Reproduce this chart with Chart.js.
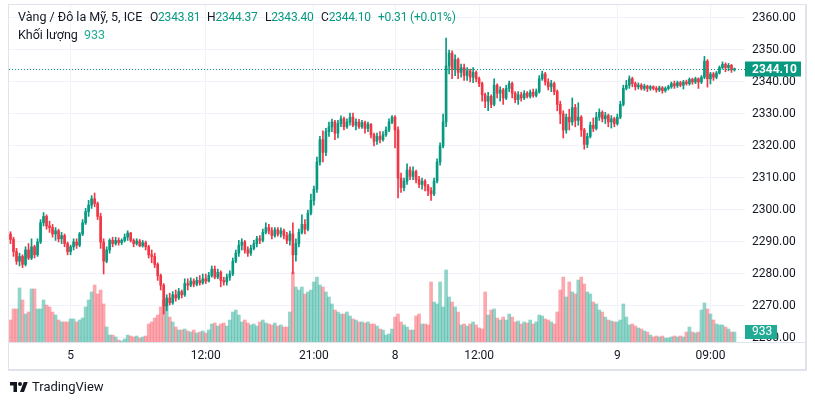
<!DOCTYPE html>
<html>
<head>
<meta charset="utf-8">
<script src="https://cdn.jsdelivr.net/npm/chart.js@4.4.0/dist/chart.umd.min.js"></script>
<style>
  body { margin: 0; background: #fff; font-family: Roboto, sans-serif; }
  #wrap { position: relative; width: 815px; height: 405px; }
  .lg { position: absolute; font-size: 12.5px; line-height: 16px; color: #131722; white-space: nowrap; }
  .num { font-size: 12px; letter-spacing: -0.2px; }
  .v { color: #089981; }
  .vol { color: #22ab94; }
</style>
</head>
<body>
<div id="wrap">
  <canvas id="chart" width="815" height="405"></canvas>
  <div class="lg" style="left:18px;top:9px">Vàng / Đô la Mỹ, 5, ICE</div>
  <div class="lg num" style="left:150px;top:9px">O<span class="v">2343.81</span></div>
  <div class="lg num" style="left:207px;top:9px">H<span class="v">2344.37</span></div>
  <div class="lg num" style="left:265px;top:9px">L<span class="v">2343.40</span></div>
  <div class="lg num" style="left:321px;top:9px">C<span class="v">2344.10</span></div>
  <div class="lg num v" style="left:378px;top:9px">+0.31 (+0.01%)</div>
  <div class="lg" style="left:18px;top:27px">Khối lượng</div>
  <div class="lg vol" style="left:84px;top:27px">933</div>
  <svg style="position:absolute;left:10px;top:381px" width="18" height="12" viewBox="0 0 36 24">
    <path fill="#131722" d="M14 22H7V9H0V2h14v20zM28 22h-8l7.5-20h8L28 22z"/>
    <circle fill="#131722" cx="20" cy="6" r="4"/>
  </svg>
  <div class="lg" style="left:32px;top:379px;font-size:13px">TradingView</div>
</div>
<script>
// 5-minute gold candles (one entry per ~3 px column)
const opens = [
  2292.5,2290.8,2287.0,2284.0,2285.5,2283.0,2287.5,2285.0,2288.5,2286.0,
  2290.0,2296.0,2298.0,2295.0,2294.5,2292.5,2293.5,2291.0,2292.0,2289.5,
  2287.0,2288.5,2290.0,2289.0,2292.5,2296.0,2299.5,2301.5,2303.5,2302.0,
  2298.0,2290.0,2284.0,2287.5,2290.5,2289.5,2290.5,2289.8,2290.5,2291.5,
  2292.8,2290.5,2289.5,2290.3,2288.8,2289.8,2288.5,2286.0,2285.5,2283.0,
  2279.5,2276.5,2270.0,2272.5,2271.0,2273.5,2272.5,2274.5,2273.5,2277.0,
  2276.5,2277.8,2276.8,2278.0,2277.2,2278.5,2277.8,2279.5,2281.5,2279.0,
  2280.5,2278.0,2277.5,2279.0,2280.0,2284.0,2286.5,2289.0,2290.0,2287.5,
  2286.5,2288.0,2289.5,2291.0,2290.5,2293.0,2294.5,2293.5,2292.0,2293.8,
  2292.5,2293.5,2292.0,2290.5,2292.5,2286.0,2289.5,2293.0,2295.5,2294.0,
  2299.0,2303.0,2306.5,2315.0,2322.0,2318.0,2324.5,2326.0,2327.5,2324.0,
  2327.0,2328.5,2326.0,2327.5,2329.0,2326.5,2327.5,2326.0,2327.3,2325.5,
  2326.8,2323.5,2321.5,2323.0,2322.0,2323.5,2325.0,2327.5,2329.0,2325.0,
  2310.0,2307.0,2309.0,2312.5,2310.5,2312.0,2309.5,2308.0,2309.0,2307.5,
  2306.0,2305.0,2309.0,2315.0,2320.0,2327.5,2345.0,2349.0,2344.0,2347.0,
  2343.0,2344.5,2342.0,2343.5,2341.5,2343.0,2341.0,2339.5,2336.0,2334.0,
  2335.5,2333.0,2339.0,2336.5,2337.5,2335.0,2338.0,2339.5,2336.5,2334.5,
  2336.0,2335.0,2336.5,2335.5,2336.8,2335.8,2337.0,2341.0,2342.5,2340.0,
  2338.5,2339.5,2337.0,2333.0,2330.0,2325.0,2329.0,2327.5,2332.0,2328.0,
  2329.0,2325.0,2320.5,2323.0,2326.5,2325.5,2329.0,2330.5,2328.5,2329.5,
  2327.5,2328.5,2327.0,2329.0,2333.0,2338.0,2339.0,2341.0,2339.5,2338.5,
  2339.0,2338.0,2338.7,2338.0,2338.5,2338.0,2337.5,2338.2,2337.3,2338.0,
  2338.5,2339.5,2338.8,2339.8,2339.0,2340.0,2339.5,2340.8,2340.0,2341.0,
  2340.0,2341.5,2346.5,2341.0,2342.5,2341.5,2342.8,2344.5,2345.5,2344.5,
  2345.2,2343.81
];
const highs = [
  2293.2,2291.5,2288.0,2286.5,2286.0,2288.5,2289.5,2291.0,2289.0,2291.0,
  2297.0,2299.2,2298.5,2296.5,2295.5,2294.5,2294.0,2293.0,2292.5,2290.0,
  2289.0,2291.0,2291.0,2293.0,2297.0,2300.5,2303.0,2304.5,2305.3,2302.5,
  2299.0,2291.0,2288.5,2291.0,2291.5,2291.5,2291.3,2291.0,2292.5,2293.5,
  2293.0,2291.0,2291.0,2290.8,2290.5,2290.3,2289.0,2287.5,2286.5,2283.5,
  2280.0,2277.0,2273.5,2274.0,2274.5,2275.0,2275.5,2275.0,2278.5,2278.5,
  2278.8,2278.5,2279.0,2279.5,2280.0,2280.0,2280.5,2282.5,2282.5,2281.5,
  2281.0,2279.0,2280.0,2281.0,2285.0,2287.5,2290.5,2291.0,2290.5,2288.5,
  2289.0,2290.5,2291.8,2292.0,2294.0,2296.0,2295.5,2294.5,2294.5,2294.5,
  2294.4,2294.0,2293.0,2293.4,2296.0,2291.0,2294.0,2298.5,2297.0,2300.0,
  2305.0,2307.5,2316.5,2323.0,2324.7,2325.5,2327.5,2328.4,2328.0,2328.0,
  2329.4,2329.0,2328.5,2330.3,2330.3,2328.5,2328.3,2328.0,2327.8,2327.5,
  2327.0,2324.0,2324.0,2324.5,2324.5,2326.0,2328.5,2329.5,2329.5,2326.0,
  2311.5,2310.0,2314.4,2313.5,2313.5,2312.5,2310.5,2310.0,2309.5,2308.0,
  2307.0,2310.0,2316.0,2321.0,2330.0,2353.75,2350.0,2349.7,2348.5,2347.5,
  2345.6,2345.6,2344.5,2344.0,2344.5,2343.5,2341.5,2340.0,2336.5,2336.8,
  2336.0,2341.0,2339.4,2338.5,2338.0,2339.0,2340.3,2340.0,2337.0,2337.0,
  2336.8,2337.3,2337.0,2337.5,2337.8,2337.8,2342.0,2343.4,2343.0,2341.0,
  2340.5,2340.0,2337.5,2334.0,2331.0,2330.0,2331.5,2335.0,2333.0,2333.5,
  2329.5,2325.5,2324.0,2327.5,2328.75,2330.5,2331.6,2331.0,2330.5,2330.0,
  2329.5,2329.0,2330.0,2334.0,2339.0,2340.5,2341.9,2341.5,2340.0,2339.7,
  2339.5,2339.3,2339.0,2338.9,2338.8,2338.6,2338.75,2338.6,2338.5,2339.0,
  2340.0,2340.3,2340.3,2340.2,2340.5,2340.6,2341.25,2341.2,2341.5,2341.3,
  2342.0,2348.0,2347.0,2343.0,2343.0,2343.3,2345.0,2346.3,2346.0,2345.8,
  2345.5,2344.37
];
const lows = [
  2289.5,2285.5,2283.0,2282.5,2282.0,2282.5,2284.5,2284.5,2285.0,2285.5,
  2289.5,2295.0,2294.0,2293.0,2291.5,2290.5,2290.0,2289.5,2288.5,2286.0,
  2286.0,2287.5,2288.0,2288.5,2292.0,2295.5,2298.0,2300.5,2301.0,2297.0,
  2288.0,2280.0,2283.5,2286.5,2288.5,2289.0,2289.0,2289.2,2290.0,2290.5,
  2290.0,2288.5,2289.0,2288.5,2288.4,2287.5,2285.0,2283.5,2282.0,2278.0,
  2275.0,2267.5,2268.5,2270.3,2270.5,2271.5,2272.0,2272.5,2273.0,2275.0,
  2276.0,2276.0,2276.3,2276.5,2276.8,2277.0,2277.5,2279.0,2278.5,2278.5,
  2276.0,2276.5,2276.5,2278.0,2279.5,2283.5,2285.5,2287.5,2286.5,2285.5,
  2285.8,2287.5,2288.5,2289.5,2290.0,2292.5,2292.5,2291.0,2291.5,2291.8,
  2291.5,2291.0,2289.5,2289.0,2280.0,2284.0,2288.5,2292.5,2292.5,2293.5,
  2298.5,2301.5,2305.5,2314.0,2315.0,2317.0,2323.0,2324.5,2322.0,2322.5,
  2326.0,2325.0,2325.5,2326.5,2326.0,2325.0,2325.5,2325.5,2324.0,2324.5,
  2322.5,2320.0,2320.5,2321.0,2321.5,2323.0,2324.5,2327.0,2319.4,2303.8,
  2305.5,2306.0,2308.0,2309.5,2309.5,2308.5,2307.0,2306.5,2306.0,2304.5,
  2303.0,2304.5,2308.5,2314.0,2319.4,2326.0,2342.5,2341.0,2342.0,2341.0,
  2341.5,2340.5,2340.5,2340.0,2339.8,2340.0,2338.5,2334.0,2332.0,2331.0,
  2332.0,2332.5,2335.0,2334.0,2333.0,2334.5,2337.0,2335.0,2333.5,2333.0,
  2334.0,2334.5,2335.0,2335.0,2335.2,2335.3,2336.5,2340.5,2339.0,2337.5,
  2337.0,2336.0,2331.0,2327.0,2322.5,2324.0,2325.0,2326.5,2326.0,2326.5,
  2323.0,2319.0,2319.5,2322.5,2324.5,2325.0,2328.0,2327.5,2327.0,2326.0,
  2325.6,2326.0,2326.5,2328.5,2332.5,2337.5,2338.0,2338.5,2337.5,2337.8,
  2337.5,2337.4,2337.0,2337.4,2337.5,2336.8,2337.0,2336.5,2336.8,2337.5,
  2338.0,2338.0,2338.3,2338.5,2337.8,2339.0,2339.0,2339.3,2339.5,2338.0,
  2339.5,2341.0,2338.4,2339.4,2340.5,2341.0,2342.5,2344.0,2343.2,2343.5,
  2343.0,2343.40
];
const closes = [
  2290.8,2287.0,2284.0,2285.5,2283.0,2287.5,2285.0,2288.5,2286.0,2290.0,
  2296.0,2298.0,2295.0,2294.5,2292.5,2293.5,2291.0,2292.0,2289.5,2287.0,
  2288.5,2290.0,2289.0,2292.5,2296.0,2299.5,2301.5,2303.5,2302.0,2298.0,
  2290.0,2284.0,2287.5,2290.5,2289.5,2290.5,2289.8,2290.5,2291.5,2292.8,
  2290.5,2289.5,2290.3,2288.8,2289.8,2288.5,2286.0,2285.5,2283.0,2279.5,
  2276.5,2270.0,2272.5,2271.0,2273.5,2272.5,2274.5,2273.5,2277.0,2276.5,
  2277.8,2276.8,2278.0,2277.2,2278.5,2277.8,2279.5,2281.5,2279.0,2280.5,
  2278.0,2277.5,2279.0,2280.0,2284.0,2286.5,2289.0,2290.0,2287.5,2286.5,
  2288.0,2289.5,2291.0,2290.5,2293.0,2294.5,2293.5,2292.0,2293.8,2292.5,
  2293.5,2292.0,2290.5,2292.5,2286.0,2289.5,2293.0,2295.5,2294.0,2299.0,
  2303.0,2306.5,2315.0,2322.0,2318.0,2324.5,2326.0,2327.5,2324.0,2327.0,
  2328.5,2326.0,2327.5,2329.0,2326.5,2327.5,2326.0,2327.3,2325.5,2326.8,
  2323.5,2321.5,2323.0,2322.0,2323.5,2325.0,2327.5,2329.0,2325.0,2310.0,
  2307.0,2309.0,2312.5,2310.5,2312.0,2309.5,2308.0,2309.0,2307.5,2306.0,
  2305.0,2309.0,2315.0,2320.0,2327.5,2345.0,2349.0,2344.0,2347.0,2343.0,
  2344.5,2342.0,2343.5,2341.5,2343.0,2341.0,2339.5,2336.0,2334.0,2335.5,
  2333.0,2339.0,2336.5,2337.5,2335.0,2338.0,2339.5,2336.5,2334.5,2336.0,
  2335.0,2336.5,2335.5,2336.8,2335.8,2337.0,2341.0,2342.5,2340.0,2338.5,
  2339.5,2337.0,2333.0,2330.0,2325.0,2329.0,2327.5,2332.0,2328.0,2329.0,
  2325.0,2320.5,2323.0,2326.5,2325.5,2329.0,2330.5,2328.5,2329.5,2327.5,
  2328.5,2327.0,2329.0,2333.0,2338.0,2339.0,2341.0,2339.5,2338.5,2339.0,
  2338.0,2338.7,2338.0,2338.5,2338.0,2337.5,2338.2,2337.3,2338.0,2338.5,
  2339.5,2338.8,2339.8,2339.0,2340.0,2339.5,2340.8,2340.0,2341.0,2340.0,
  2341.5,2346.5,2341.0,2342.5,2341.5,2342.8,2344.5,2345.5,2344.5,2345.2,
  2343.8,2344.10
];
const volumes = [
  2050,3080,3080,5040,3920,2610,2800,4950,4950,3080,
  3080,3920,3450,3270,2800,2520,2050,1870,1870,1870,
  2150,2150,1870,2050,2240,3270,3920,4670,5320,4480,
  4850,3550,1400,650,650,470,190,90,280,650,
  560,470,560,370,470,560,1680,1870,2240,2520,
  3270,3920,3550,2330,1870,1400,1120,1120,1210,1030,
  930,1120,840,930,1030,840,1120,1680,1770,1490,
  1680,1770,1490,2050,2800,2990,2520,1870,2050,1770,
  1590,1680,1490,1870,2050,1770,1680,1590,1770,1490,
  1590,1400,1400,2800,6530,5130,4850,5130,4480,4670,
  4850,5600,6060,5320,5130,4670,4200,3550,2990,2800,
  2610,2610,2800,2430,2150,2050,1870,1870,1770,1870,
  1680,1680,1490,1210,1120,650,750,1210,2330,2610,
  1870,1590,1400,1120,1120,2430,2610,1680,1680,1590,
  5600,3730,3550,5600,3270,6720,4200,3730,3270,2800,
  1590,1680,1490,1680,1870,1590,1310,1210,4670,2520,
  2990,3080,2240,2050,2330,2050,2610,2330,1870,1960,
  1680,1870,1770,2050,1680,1870,2520,2430,2150,2050,
  1870,1680,2800,4850,6060,4200,5600,4670,4480,5780,
  6060,5410,4670,4480,3730,3550,2990,2800,2330,2050,
  1960,1870,1870,2050,3550,2330,1590,1680,1490,1310,
  1210,1030,930,650,470,560,470,560,370,370,
  470,560,470,560,470,930,1400,930,840,930,
  2990,3640,3080,2610,2050,1680,1590,1590,1400,1210,
  930,933
];
const priceTicks = [2260,2270,2280,2290,2300,2310,2320,2330,2340,2350,2360];
const timeTicks = { 20: '5', 65: '12:00', 101: '21:00', 128: '8', 156: '12:00', 202: '9', 233: '09:00' };
const slotCount = 245;

const labels = Array.from({ length: slotCount }, (_, i) => timeTicks[i] || '');
const upColor = '#089981', downColor = '#f23645';
const isUp = closes.map((c, i) => c >= opens[i]);
const candleColors = isUp.map(u => u ? upColor : downColor);
const volColors = isUp.map(u => u ? 'rgba(34,171,148,0.5)' : 'rgba(247,82,95,0.5)');
const txt = '#131722';

const overlay = {
  id: 'overlay',
  beforeDraw(chart) {
    const c = chart.ctx;
    c.save();
    c.fillStyle = '#fff';
    c.fillRect(0, 0, chart.width, chart.height);
    c.restore();
  },
  afterDraw(chart) {
    const c = chart.ctx, a = chart.chartArea;
    const last = closes[closes.length - 1];
    const lastVol = volumes[volumes.length - 1];
    const py = Math.round(chart.scales.y.getPixelForValue(last)) + 0.5;
    const vy = Math.round(chart.scales.yv.getPixelForValue(lastVol));
    c.save();
    // dotted last price line
    c.strokeStyle = upColor;
    c.lineWidth = 1;
    c.setLineDash([1, 2]);
    c.beginPath();
    c.moveTo(a.left, py);
    c.lineTo(a.right, py);
    c.stroke();
    c.setLineDash([]);
    // frame
    c.fillStyle = '#e0e3eb';
    c.fillRect(8, 4, 798, 1);
    c.fillRect(8, 4, 1, 366);
    c.fillRect(805, 4, 2, 367);
    c.fillRect(8, 369, 799, 2);
    c.fillRect(8, a.bottom, 797, 1);
    // price label
    c.fillStyle = upColor;
    c.fillRect(a.right, py - 8, 56, 15);
    c.fillStyle = '#fff';
    c.font = 'bold 12px Roboto';
    c.textBaseline = 'middle';
    c.fillText(last.toFixed(2), a.right + 7, py);
    // volume label
    c.fillStyle = '#22ab94';
    c.fillRect(a.right, vy - 7, 32, 14);
    c.fillStyle = '#fff';
    c.font = '12px Roboto';
    c.fillText(String(lastVol), a.right + 7, vy);
    c.restore();
  }
};

Chart.defaults.font.family = 'Roboto';

new Chart(document.getElementById('chart'), {
  type: 'bar',
  data: {
    labels: labels,
    datasets: [
      {
        label: 'Khối lượng',
        data: volumes,
        yAxisID: 'yv',
        backgroundColor: volColors,
        barThickness: 3,
        grouped: false,
        order: 3
      },
      {
        label: 'wick',
        data: lows.map((l, i) => [l, highs[i]]),
        yAxisID: 'y',
        backgroundColor: candleColors,
        barThickness: 1,
        grouped: false,
        order: 2
      },
      {
        label: 'body',
        data: opens.map((o, i) => [o, closes[i]]),
        yAxisID: 'y',
        backgroundColor: candleColors,
        barThickness: 2,
        minBarLength: 1,
        grouped: false,
        order: 1
      }
    ]
  },
  options: {
    responsive: false,
    animation: false,
    devicePixelRatio: 1,
    events: [],
    layout: { padding: { left: 9, top: 5, right: 10, bottom: 35 } },
    plugins: { legend: { display: false }, tooltip: { enabled: false } },
    scales: {
      x: {
        type: 'category',
        offset: true,
        grid: {
          offset: false,
          drawTicks: false,
          color: ctx => (ctx.tick && ctx.tick.label) ? '#f0f3fa' : 'rgba(0,0,0,0)'
        },
        border: { display: false },
        ticks: { autoSkip: false, maxRotation: 0, minRotation: 0, padding: 7, color: txt, font: { size: 12 } },
        afterFit: s => { s.height = 28; s.paddingLeft = 0; s.paddingRight = 0; }
      },
      y: {
        position: 'right',
        min: 2258.75,
        max: 2364.06,
        afterBuildTicks: s => { s.ticks = priceTicks.map(v => ({ value: v })); },
        grid: { color: '#f0f3fa', drawTicks: false },
        border: { display: false },
        ticks: { padding: 7, color: txt, font: { size: 12 }, callback: v => v.toFixed(2) },
        afterFit: s => { s.width = 60; s.paddingTop = 0; s.paddingBottom = 0; }
      },
      yv: { display: false, min: 0, max: 31450 }
    }
  },
  plugins: [overlay]
});
</script>
</body>
</html>
